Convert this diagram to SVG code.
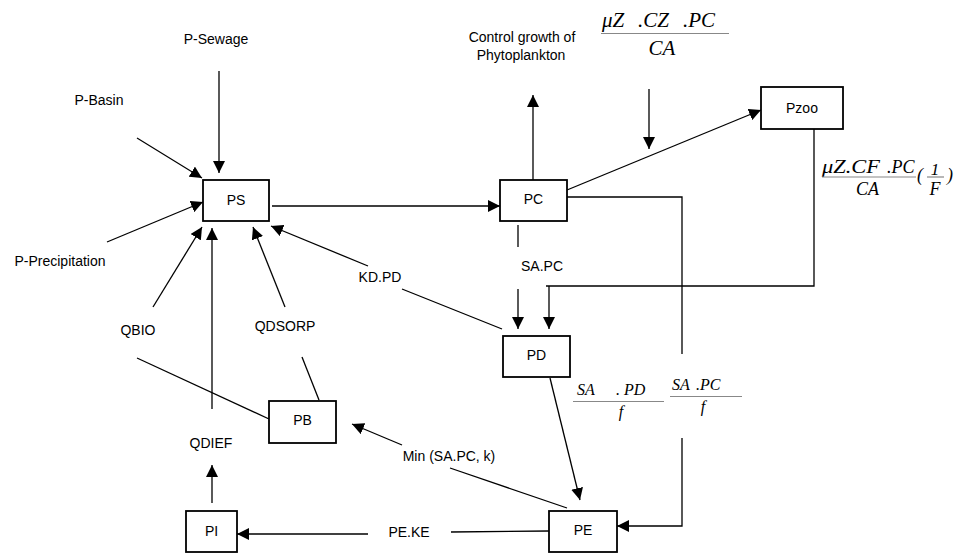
<svg xmlns="http://www.w3.org/2000/svg" width="956" height="554" viewBox="0 0 956 554">
<style>
.box{fill:#fff;stroke:#000;stroke-width:1.8}
.lbl{font-family:"Liberation Sans",Arial,sans-serif;font-size:14px;fill:#000;text-anchor:middle}
.ln{stroke:#000;stroke-width:1.3;fill:none}
.ar{marker-end:url(#ah)}
.frac{stroke:#888;stroke-width:1.2}
.m{font-family:"Liberation Serif","Times New Roman",serif;font-style:italic;fill:#000}
</style>
<defs>
<marker id="ah" markerUnits="userSpaceOnUse" markerWidth="12" markerHeight="12" refX="12" refY="6" orient="auto">
<path d="M0,0 L12,6 L0,12 z" fill="#000"/>
</marker>
</defs>
<rect width="956" height="554" fill="#fff"/>

<g id="connectors">
<line class="ln ar" x1="219" y1="71" x2="219" y2="173"/>
<line class="ln ar" x1="137" y1="138" x2="202" y2="178"/>
<line class="ln ar" x1="107" y1="242" x2="203" y2="202"/>
<line class="ln ar" x1="153" y1="307" x2="202" y2="227"/>
<line class="ln ar" x1="212" y1="409" x2="212" y2="228"/>
<line class="ln ar" x1="285" y1="307" x2="253" y2="227"/>
<line class="ln ar" x1="368" y1="266" x2="271" y2="226"/>
<line class="ln" x1="402" y1="289" x2="502" y2="329"/>
<line class="ln ar" x1="272" y1="206" x2="500" y2="206"/>
<line class="ln ar" x1="533" y1="180" x2="533" y2="95"/>
<line class="ln ar" x1="649" y1="89" x2="649" y2="149"/>
<line class="ln ar" x1="567" y1="190" x2="761" y2="110"/>
<path class="ln" d="M567,197 H682 V354"/>
<path class="ln ar" d="M682,438 V526 H617"/>
<path class="ln" d="M814,129 V286 H546"/>
<line class="ln ar" x1="549" y1="286" x2="549" y2="329"/>
<line class="ln" x1="518" y1="225" x2="518" y2="247"/>
<line class="ln ar" x1="518" y1="289" x2="518" y2="329"/>
<line class="ln ar" x1="550" y1="378" x2="580" y2="500"/>
<line class="ln" x1="567" y1="508" x2="450" y2="468"/>
<line class="ln ar" x1="402" y1="445" x2="352" y2="424"/>
<line class="ln" x1="549" y1="531" x2="451" y2="532"/>
<line class="ln ar" x1="368" y1="534" x2="237" y2="534"/>
<line class="ln ar" x1="212" y1="503" x2="212" y2="465"/>
<line class="ln" x1="137" y1="358" x2="269" y2="419"/>
<line class="ln" x1="302" y1="357" x2="319" y2="400"/>
</g>

<g id="PS"><rect class="box" x="203" y="180" width="66" height="41"/><text class="lbl" x="236" y="205">PS</text></g>
<g id="PC"><rect class="box" x="500" y="180" width="67" height="41"/><text class="lbl" x="533.5" y="204">PC</text></g>
<g id="PD"><rect class="box" x="503" y="336" width="67" height="41"/><text class="lbl" x="536.5" y="360">PD</text></g>
<g id="PE"><rect class="box" x="549" y="511" width="68" height="41"/><text class="lbl" x="583" y="535">PE</text></g>
<g id="PI"><rect class="box" x="186" y="511" width="51" height="41"/><text class="lbl" x="211.5" y="536">PI</text></g>
<g id="PB"><rect class="box" x="269" y="401" width="67" height="42"/><text class="lbl" x="302.5" y="425">PB</text></g>
<g id="Pzoo"><rect class="box" x="761" y="87" width="82" height="42"/><text class="lbl" x="802" y="113">Pzoo</text></g>

<g id="labels">
<text class="lbl" x="216" y="44">P-Sewage</text>
<text class="lbl" x="99" y="105">P-Basin</text>
<text class="lbl" x="60" y="266">P-Precipitation</text>
<text class="lbl" x="522" y="42">Control growth of</text>
<text class="lbl" x="521" y="60">Phytoplankton</text>
<text class="lbl" x="542" y="271">SA.PC</text>
<text class="lbl" x="380" y="282">KD.PD</text>
<text class="lbl" x="138" y="335">QBIO</text>
<text class="lbl" x="285" y="331">QDSORP</text>
<text class="lbl" x="211" y="448">QDIEF</text>
<text class="lbl" x="449" y="461">Min (SA.PC, k)</text>
<text class="lbl" x="409" y="537">PE.KE</text>
</g>

<g id="formula-zoo-growth">
<text class="m" font-size="21" y="27"><tspan x="602">μZ</tspan><tspan x="638">.CZ</tspan><tspan x="683">.PC</tspan></text>
<line class="frac" x1="601" y1="33.5" x2="729" y2="33.5"/>
<text class="m" font-size="21" x="662" y="55" text-anchor="middle">CA</text>
</g>

<g id="formula-zoo-feed">
<text class="m" font-size="18" y="173"><tspan x="822" textLength="58" lengthAdjust="spacingAndGlyphs">μZ.CF</tspan><tspan x="887">.PC</tspan></text>
<line class="frac" x1="822" y1="177" x2="916" y2="177"/>
<text class="m" font-size="18" x="867.5" y="194.5" text-anchor="middle">CA</text>
<text class="m" font-size="18" x="917" y="181" font-style="normal">(</text>
<text class="m" font-size="17" x="935" y="175" text-anchor="middle" font-style="normal">1</text>
<line class="frac" x1="927" y1="177" x2="944" y2="177"/>
<text class="m" font-size="18" x="935" y="194.5" text-anchor="middle">F</text>
<text class="m" font-size="18" x="947" y="181" font-style="normal">)</text>
</g>

<g id="formula-settle">
<text class="m" font-size="16" y="395"><tspan x="577">SA</tspan><tspan x="616">. PD</tspan></text>
<line class="frac" x1="573" y1="401.5" x2="664" y2="401.5"/>
<text class="m" font-size="16" x="621" y="417" text-anchor="middle">f</text>
<text class="m" font-size="16" y="390"><tspan x="672">SA</tspan><tspan x="696">.PC</tspan></text>
<line class="frac" x1="670" y1="396.5" x2="742" y2="396.5"/>
<text class="m" font-size="16" x="703" y="412" text-anchor="middle">f</text>
</g>
</svg>
